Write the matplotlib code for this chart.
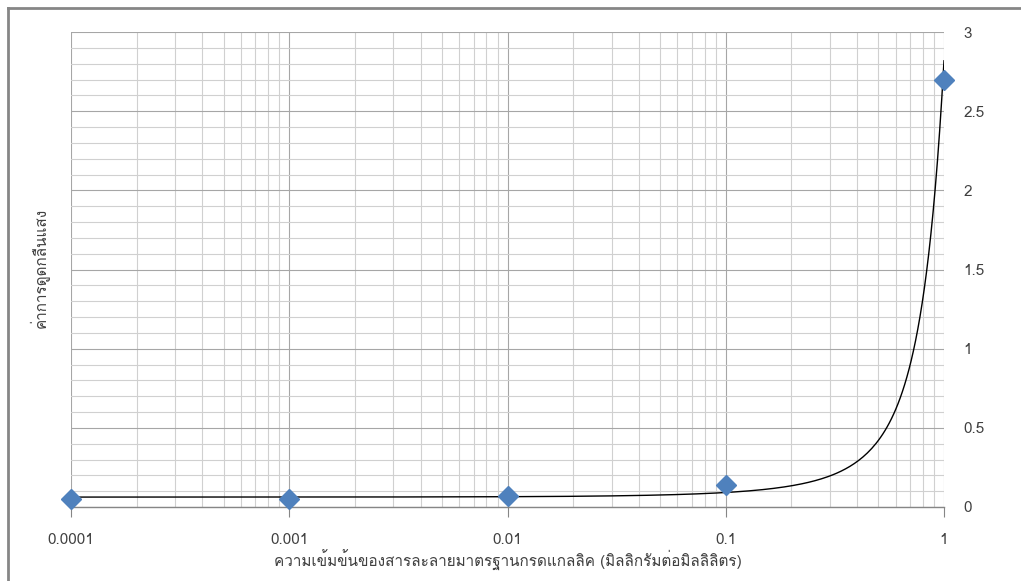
import numpy as np
import matplotlib.pyplot as plt
from matplotlib import font_manager
from matplotlib.ft2font import FT2Font

# concentration (mg/ml) and absorbance
conc = [0.0001, 0.001, 0.01, 0.1, 1]
absorb = [0.05, 0.05, 0.07, 0.14, 2.70]
x_ticks = [0.0001, 0.001, 0.01, 0.1, 1]
x_labels = ['0.0001', '0.001', '0.01', '0.1', '1']
y_ticks = [0, 0.5, 1, 1.5, 2, 2.5, 3]
y_labels = ['0', '0.5', '1', '1.5', '2', '2.5', '3']
xlabel = 'ความเข้มข้นของสารละลายมาตรฐานกรดแกลลิค (มิลลิกรัมต่อมิลลิลิตร)'
ylabel = 'ค่าการดูดกลืนแสง'

# find some installed font that has thai glyphs
thai = None
for f in font_manager.fontManager.ttflist:
    try:
        if 0x0E04 in FT2Font(f.fname).get_charmap():
            thai = f.name
            break
    except Exception:
        pass
fams = [thai, 'DejaVu Sans'] if thai else ['DejaVu Sans']
plt.rcParams['font.family'] = fams

fig = plt.figure(figsize=(10.21, 5.81), dpi=100)
ax = fig.add_axes([71/1021, 1-507/581, 873/1021, 475/581])

# exponential trendline (fit on log y)
b, lna = np.polyfit(conc, np.log(absorb), 1)
xs = np.logspace(-4, 0, 400)
ax.plot(xs, np.exp(lna) * np.exp(b * xs), color='black', lw=1.0, zorder=3)
ax.plot(conc, absorb, 'D', color='#4F81BD', ms=10, mec='#4F81BD', zorder=4, clip_on=False)

ax.set_xscale('log')
ax.set_xlim(0.0001, 1)
ax.set_ylim(0, 3)
ax.set_xticks(x_ticks)
ax.set_xticklabels(x_labels)
ax.set_yticks(y_ticks)
ax.set_yticklabels(y_labels)
ax.set_yticks(np.arange(0, 3.01, 0.1), minor=True)
ax.yaxis.tick_right()
ax.tick_params(axis='y', which='both', length=0, pad=14, labelsize=11, labelcolor='#404040')
ax.tick_params(axis='x', which='major', length=7, color='#868686', pad=12, labelsize=11, labelcolor='#404040')
ax.tick_params(axis='x', which='minor', length=0)
ax.xaxis.set_minor_formatter(plt.NullFormatter())

ax.grid(True, which='major', color='#a6a6a6', lw=0.8)
ax.grid(True, which='minor', color='#d0d0d0', lw=0.8)
ax.set_axisbelow(True)
for s in ['top', 'left', 'right']:
    ax.spines[s].set_visible(False)
ax.spines['bottom'].set_color('#868686')
ax.spines['bottom'].set_linewidth(1.0)

ax.set_xlabel(xlabel, fontsize=11, color='#404040', labelpad=2)
fig.text(40/1021, 1-268/581, ylabel, rotation=90, ha='center', va='center', fontsize=11, color='#404040')

# outer chart border, only the left and top edges show
fig.add_artist(plt.Line2D([8/1021, 8/1021], [0, 1-8/581], transform=fig.transFigure, color='#868686', lw=2))
fig.add_artist(plt.Line2D([8/1021, 1], [1-8/581, 1-8/581], transform=fig.transFigure, color='#868686', lw=2))

fig.savefig('out.png', dpi=100)
